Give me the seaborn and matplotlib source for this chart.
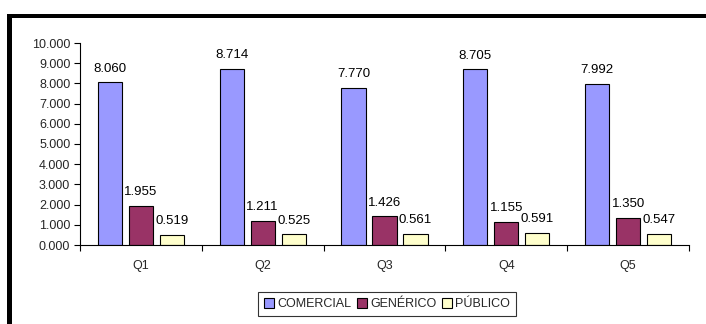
import matplotlib
matplotlib.use("Agg")
import matplotlib.pyplot as plt
from matplotlib.patches import Rectangle
from matplotlib.ticker import FuncFormatter, FixedLocator
import pandas as pd
import seaborn as sns

# Data
quarters = ["Q1", "Q2", "Q3", "Q4", "Q5"]
series = ["COMERCIAL", "GENÉRICO", "PÚBLICO"]
comercial = [8.060, 8.714, 7.770, 8.705, 7.992]
generico = [1.955, 1.211, 1.426, 1.155, 1.350]
publico = [0.519, 0.525, 0.561, 0.591, 0.547]
colors = ["#9999FF", "#993366", "#FFFFCC"]

df = pd.DataFrame({
    "quarter": quarters * 3,
    "serie": [series[0]] * 5 + [series[1]] * 5 + [series[2]] * 5,
    "value": comercial + generico + publico,
})

sns.set_theme(style="white")
plt.rcParams["font.family"] = ["Liberation Sans", "DejaVu Sans"]

fig = plt.figure(figsize=(7.06, 3.24), dpi=100)
ax = fig.add_axes([80 / 706, 1 - 245 / 324, 609 / 706, 202 / 324])

sns.barplot(data=df, x="quarter", y="value", hue="serie", hue_order=series,
            order=quarters, palette=colors, errorbar=None, width=0.762,
            gap=0.22, edgecolor="black", linewidth=0.8, saturation=1,
            ax=ax)

for cont in ax.containers:
    ax.bar_label(cont, labels=[f"{v:.3f}" for v in cont.datavalues],
                 padding=5.5, fontsize=9.5, color="black")

ax.set_ylim(0, 10)
ax.set_xlim(-0.5, 4.5)
ax.set_yticks(range(0, 11))
ax.yaxis.set_major_formatter(FuncFormatter(lambda v, p: f"{v:.3f}"))
ax.set_xlabel("")
ax.set_ylabel("")

for side in ["top", "right"]:
    ax.spines[side].set_visible(False)
for side in ["left", "bottom"]:
    ax.spines[side].set_color("black")
    ax.spines[side].set_linewidth(0.8)

ax.tick_params(axis="y", which="major", direction="out", length=4, width=0.8,
               color="black", labelsize=9, pad=3, left=True)
ax.tick_params(axis="x", which="major", length=0, labelsize=9, pad=11)
ax.xaxis.set_minor_locator(FixedLocator([-0.5, 0.5, 1.5, 2.5, 3.5, 4.5]))
ax.tick_params(axis="x", which="minor", direction="out", length=4, width=0.8,
               color="black", bottom=True)

ax.get_legend().remove()
handles = [Rectangle((0, 0), 1, 1, facecolor=c, edgecolor="black", linewidth=0.8)
           for c in colors]
leg = fig.legend(handles, series, loc="center", bbox_to_anchor=(387 / 706, 1 - 304 / 324),
                 ncol=3, fontsize=9, frameon=True, fancybox=False,
                 handlelength=0.8, handleheight=0.8, handletextpad=0.3,
                 columnspacing=0.4, borderpad=0.45)
leg.get_frame().set_edgecolor("black")
leg.get_frame().set_linewidth(0.8)

# Heavy black frame along the top and left edges
fig.add_artist(Rectangle((7 / 706, 1 - 18 / 324), 699 / 706, 4 / 324,
                         transform=fig.transFigure, facecolor="black", edgecolor="none"))
fig.add_artist(Rectangle((7 / 706, 0), 5 / 706, 1 - 14 / 324,
                         transform=fig.transFigure, facecolor="black", edgecolor="none"))

fig.savefig("out.png", dpi=100, facecolor="white")
